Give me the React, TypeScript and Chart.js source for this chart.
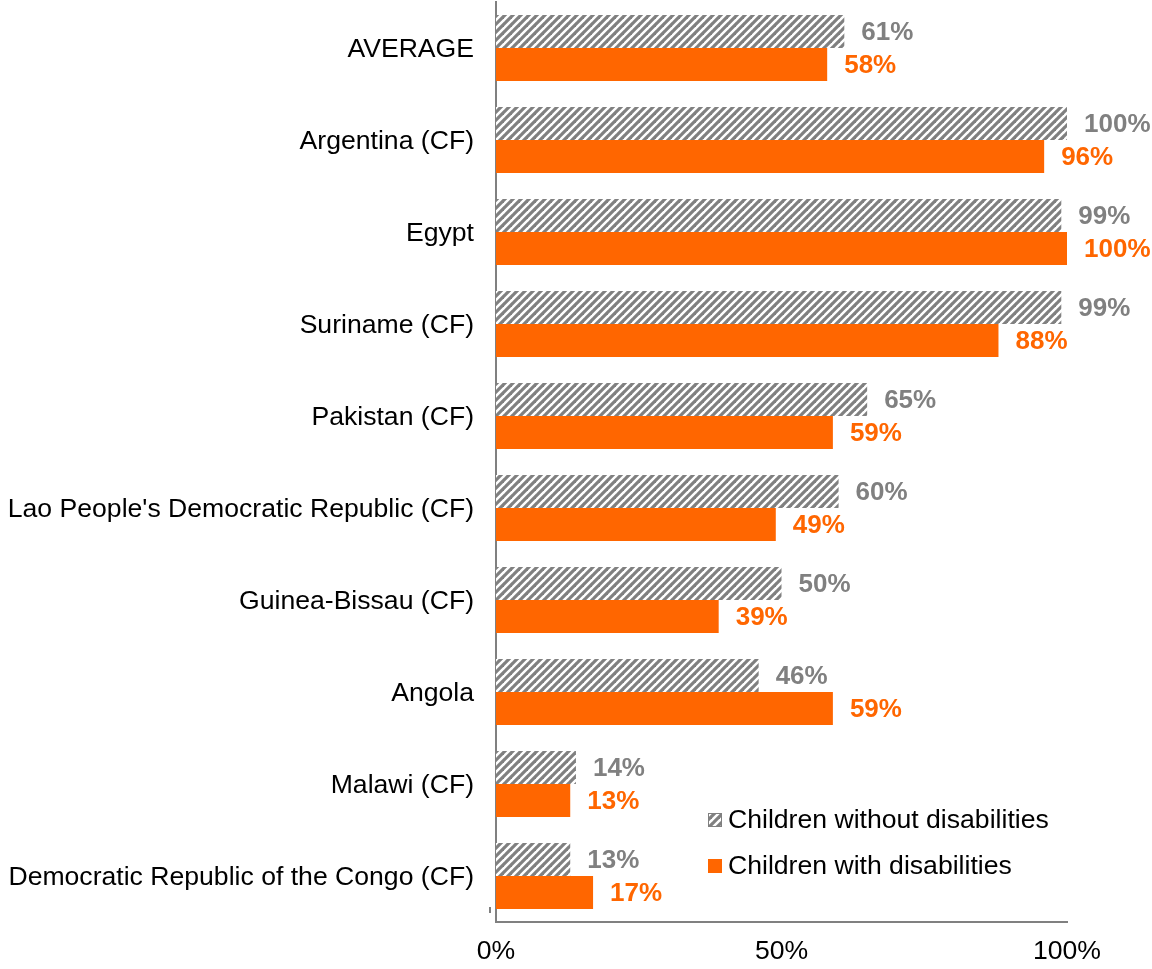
import React, { useEffect, useRef } from 'react';
import { Chart, registerables } from 'chart.js';

Chart.register(...registerables);

const categories = [
  'AVERAGE',
  'Argentina (CF)',
  'Egypt',
  'Suriname (CF)',
  'Pakistan (CF)',
  "Lao People's Democratic Republic (CF)",
  'Guinea-Bissau (CF)',
  'Angola',
  'Malawi (CF)',
  'Democratic Republic of the Congo (CF)',
];
const withoutDisabilities = [61, 100, 99, 99, 65, 60, 50, 46, 14, 13];
const withDisabilities = [58, 96, 100, 88, 59, 49, 39, 59, 13, 17];
const xTickValues = [0, 50, 100];
const seriesNames = ['Children without disabilities', 'Children with disabilities'];

const GRAY = '#808080';
const ORANGE = '#ff6600';
const FONT = '"Liberation Sans", Arial, sans-serif';

function makeHatch(): CanvasPattern | string {
  const c = document.createElement('canvas');
  c.width = 8;
  c.height = 8;
  const g = c.getContext('2d');
  if (!g) return GRAY;
  g.fillStyle = '#ffffff';
  g.fillRect(0, 0, 8, 8);
  g.strokeStyle = GRAY;
  g.lineWidth = 3.2;
  for (const off of [-8, 0, 8]) {
    g.beginPath();
    g.moveTo(off - 2, 10);
    g.lineTo(off + 10, -2);
    g.stroke();
  }
  const p = g.createPattern(c, 'repeat');
  return p || GRAY;
}

export default function App() {
  const ref = useRef<HTMLCanvasElement | null>(null);

  useEffect(() => {
    if (!ref.current) return;
    const hatch = makeHatch();
    const labelColors = [GRAY, ORANGE];

    const valueLabels = {
      id: 'valueLabels',
      afterDatasetsDraw(chart: any) {
        const ctx = chart.ctx;
        chart.data.datasets.forEach((ds: any, i: number) => {
          const meta = chart.getDatasetMeta(i);
          meta.data.forEach((bar: any, j: number) => {
            ctx.save();
            ctx.font = `bold 26px ${FONT}`;
            ctx.fillStyle = labelColors[i];
            ctx.textAlign = 'left';
            ctx.textBaseline = 'middle';
            ctx.fillText(ds.data[j] + '%', bar.x + 17, bar.y + 1.5);
            ctx.restore();
          });
        });
      },
    };

    const customLegend = {
      id: 'customLegend',
      afterDraw(chart: any) {
        const ctx = chart.ctx;
        const area = chart.chartArea;
        const x = area.left + 212;
        const ys = [area.top + 818, area.top + 864];
        const fills = [hatch, ORANGE];
        ctx.save();
        // small stray tick at the bottom of the category axis
        ctx.strokeStyle = GRAY;
        ctx.lineWidth = 2;
        ctx.beginPath();
        ctx.moveTo(area.left - 6, area.bottom - 15);
        ctx.lineTo(area.left - 6, area.bottom - 9);
        ctx.stroke();
        seriesNames.forEach((name, i) => {
          ctx.fillStyle = fills[i];
          ctx.fillRect(x, ys[i] - 7, 14, 14);
          if (i === 0) {
            ctx.strokeStyle = GRAY;
            ctx.lineWidth = 1;
            ctx.strokeRect(x + 0.5, ys[i] - 6.5, 13, 13);
          }
          ctx.fillStyle = '#000';
          ctx.font = `26.6px ${FONT}`;
          ctx.textAlign = 'left';
          ctx.textBaseline = 'middle';
          ctx.fillText(name, x + 20, ys[i] + 1);
        });
        ctx.restore();
      },
    };

    const chart = new Chart(ref.current, {
      type: 'bar',
      data: {
        labels: categories,
        datasets: [
          {
            label: seriesNames[0],
            data: withoutDisabilities,
            backgroundColor: hatch as any,
            borderWidth: 0,
            categoryPercentage: 0.717,
            barPercentage: 1,
          },
          {
            label: seriesNames[1],
            data: withDisabilities,
            backgroundColor: ORANGE,
            borderWidth: 0,
            categoryPercentage: 0.717,
            barPercentage: 1,
          },
        ],
      },
      options: {
        indexAxis: 'y',
        animation: false,
        responsive: false,
        maintainAspectRatio: false,
        devicePixelRatio: 1,
        layout: { padding: { top: 2, right: 85, bottom: 0, left: 0 } },
        plugins: {
          legend: { display: false },
          tooltip: { enabled: false },
        },
        scales: {
          x: {
            min: 0,
            max: 100,
            afterBuildTicks: (scale: any) => {
              scale.ticks = xTickValues.map((v) => ({ value: v }));
            },
            afterFit: (scale: any) => {
              scale.height = 47;
              scale.paddingLeft = 0;
              scale.paddingRight = 0;
            },
            grid: { display: false, drawTicks: false },
            border: { display: true, color: GRAY, width: 2 },
            ticks: {
              color: '#000',
              font: { family: FONT, size: 26.6 },
              padding: 14,
              maxRotation: 0,
              callback: (v: any) => v + '%',
            },
          },
          y: {
            afterFit: (scale: any) => {
              scale.width = 496;
              scale.paddingTop = 0;
              scale.paddingBottom = 0;
            },
            grid: { display: false, drawTicks: false },
            border: { display: true, color: GRAY, width: 2 },
            ticks: {
              color: '#000',
              font: { family: FONT, size: 26.6 },
              padding: 22,
              labelOffset: 2,
              autoSkip: false,
            },
          },
        },
      },
      plugins: [valueLabels, customLegend],
    });
    return () => chart.destroy();
  }, []);

  return (
    <div style={{ position: 'absolute', left: 0, top: 0, width: 1152, height: 969 }}>
      <canvas ref={ref} width={1152} height={969} />
    </div>
  );
}
